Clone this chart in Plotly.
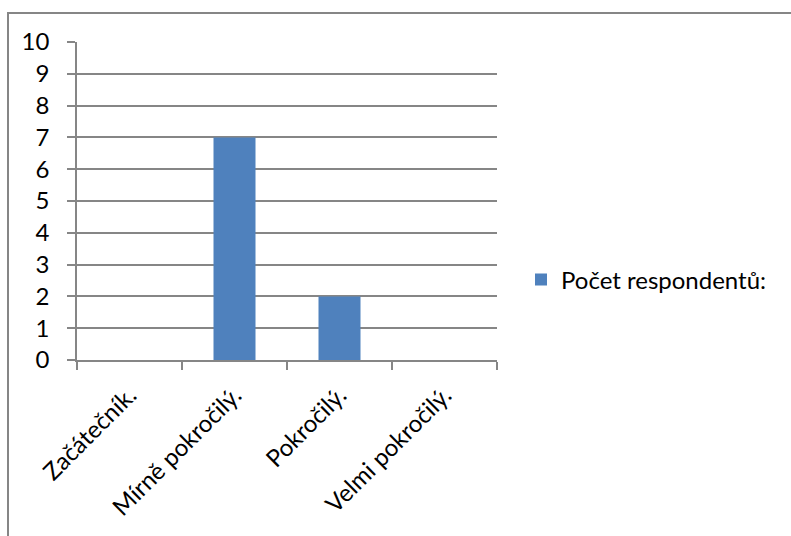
import plotly.graph_objects as go

# Survey answers: self-assessed level
categories = ["Začátečník.", "Mírně pokročilý.", "Pokročilý.", "Velmi pokročilý."]
respondents = [0, 7, 2, 0]
series_name = "Počet respondentů:"
y_ticks = list(range(0, 11))

W, H = 791, 536
L, R, T, B = 77, 294, 42, 176
plot_w = W - L - R
plot_h = H - T - B

grid = "#868686"
font = dict(family="Lato, Carlito, Calibri, sans-serif", size=24, color="#000000")

fig = go.Figure(
    go.Bar(
        x=categories,
        y=respondents,
        name=series_name,
        width=0.4,
        marker=dict(color="#4F81BD", line=dict(width=0)),
        showlegend=True,
    )
)

fig.update_layout(
    width=W,
    height=H,
    autosize=False,
    margin=dict(l=L, r=R, t=T, b=B, pad=0),
    paper_bgcolor="white",
    plot_bgcolor="white",
    font=font,
    showlegend=True,
    legend=dict(
        x=(521 - L) / plot_w,
        y=(H - B - 280) / plot_h,
        xanchor="left",
        yanchor="middle",
        font=font,
        bgcolor="rgba(0,0,0,0)",
        itemwidth=30,
    ),
    bargap=0.6,
)

fig.update_xaxes(
    type="category",
    tickangle=-45,
    tickson="boundaries",
    ticks="outside",
    ticklen=8,
    tickcolor=grid,
    tickwidth=1.5,
    showline=True,
    linecolor=grid,
    linewidth=1.5,
    showgrid=False,
    tickfont=font,
    zeroline=False,
    ticklabelstandoff=10,
)

fig.update_yaxes(
    range=[0, 10],
    tickvals=y_ticks,
    ticks="outside",
    ticklen=8,
    tickcolor=grid,
    tickwidth=1.5,
    showline=True,
    linecolor=grid,
    linewidth=1.5,
    showgrid=True,
    gridcolor=grid,
    gridwidth=1.5,
    zeroline=False,
    tickfont=font,
    ticklabelstandoff=13,
)

# Outer chart frame
fig.add_shape(
    type="rect",
    xref="paper",
    yref="paper",
    x0=(8 - L) / plot_w,
    x1=(W + 20 - L) / plot_w,
    y0=(H - B - (H + 20)) / plot_h,
    y1=(H - B - 13) / plot_h,
    line=dict(color=grid, width=2),
    fillcolor="rgba(0,0,0,0)",
    layer="below",
)

fig.write_html("out.html")
